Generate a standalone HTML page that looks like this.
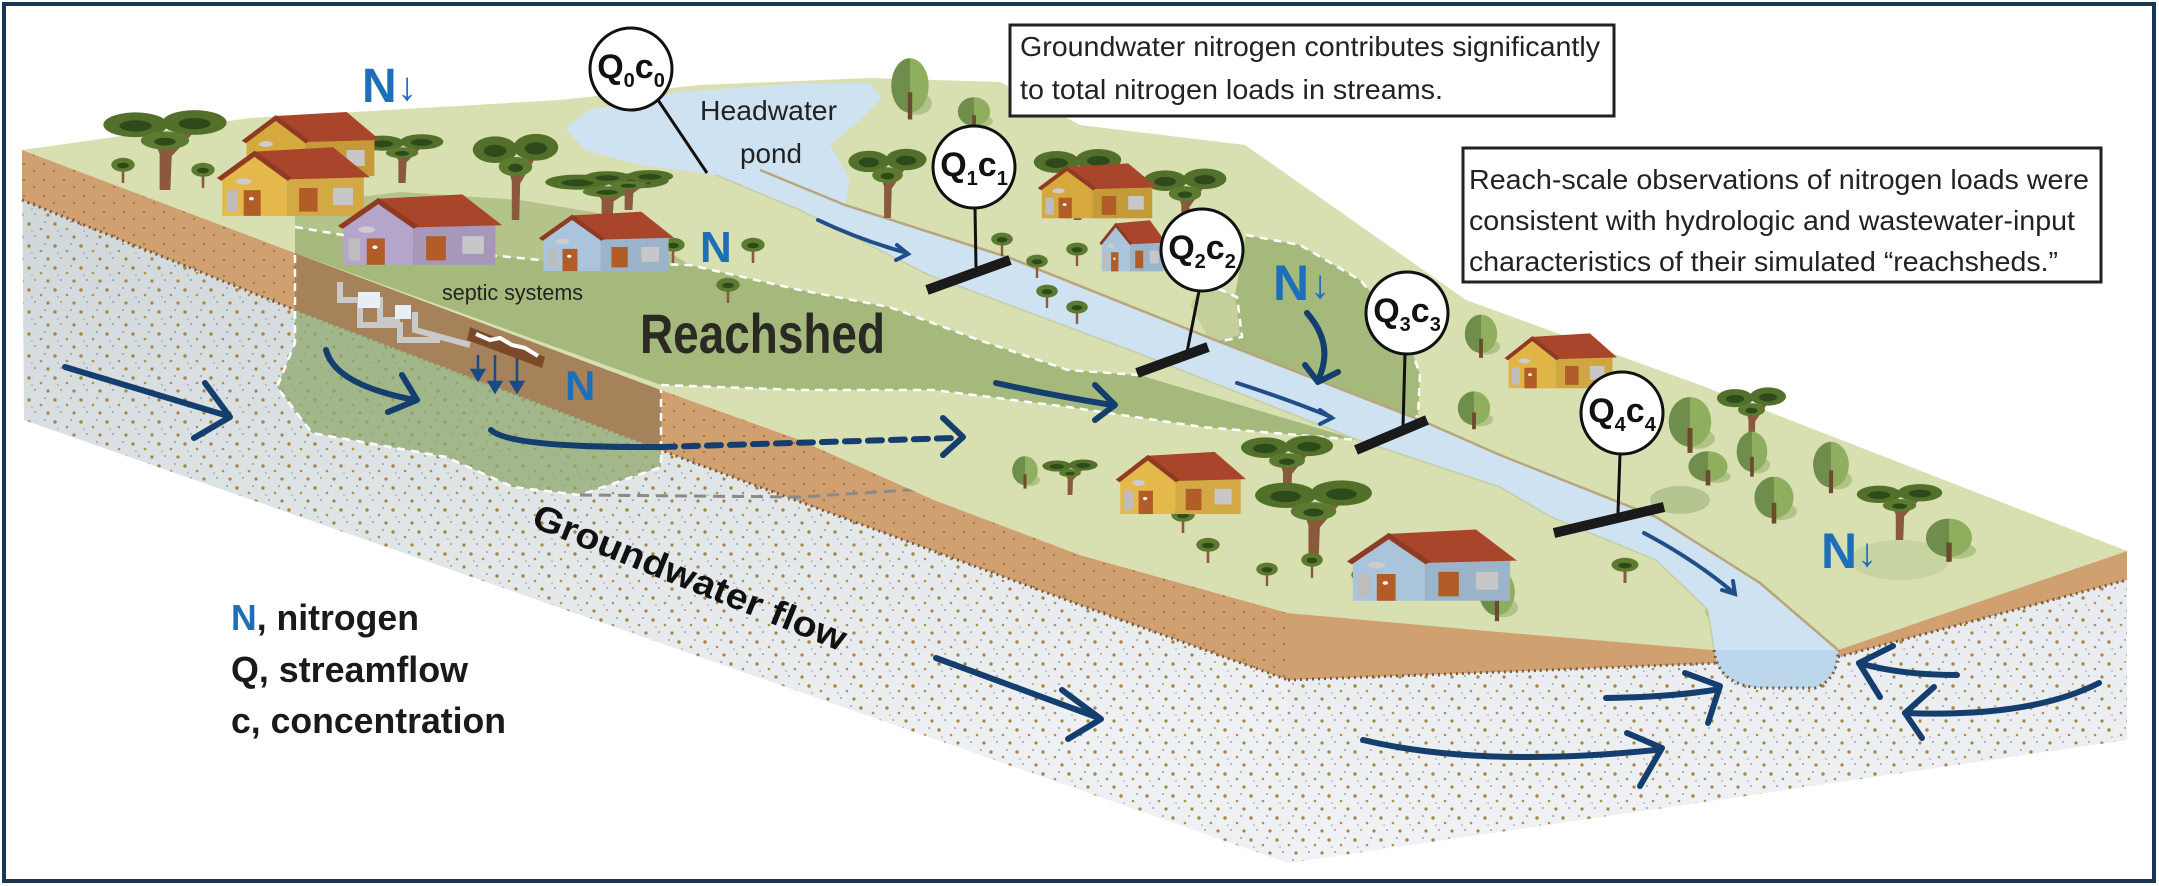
<!DOCTYPE html>
<html><head><meta charset="utf-8"><style>
html,body{margin:0;padding:0;background:#fff;}
svg{display:block;}
.nar{font-family:"Liberation Sans Narrow","Liberation Sans",sans-serif;}
</style></head><body>
<svg width="2159" height="886" viewBox="0 0 2159 886" xmlns="http://www.w3.org/2000/svg">
<defs>
<pattern id="dots" width="26" height="22" patternUnits="userSpaceOnUse">
<circle cx="3" cy="4" r="1.7" fill="#a8843f"/><circle cx="15" cy="9" r="1.3" fill="#b09050"/>
<circle cx="22" cy="17" r="1.6" fill="#a8843f"/><circle cx="9" cy="16" r="0.9" fill="#8a8a8a"/>
<circle cx="19" cy="2" r="0.9" fill="#8a8a8a"/><circle cx="6" cy="11" r="0.8" fill="#999"/>
</pattern>
<pattern id="bdots" width="20" height="16" patternUnits="userSpaceOnUse">
<circle cx="4" cy="4" r="1.2" fill="#a77a48"/><circle cx="14" cy="11" r="1.2" fill="#a77a48"/>
</pattern>
<linearGradient id="gl" x1="0" y1="0" x2="0.3" y2="1"><stop offset="0" stop-color="#cdd5d8"/><stop offset="1" stop-color="#eef1f3"/></linearGradient>
<linearGradient id="gr" x1="0" y1="0" x2="0" y2="1"><stop offset="0" stop-color="#e6eaee"/><stop offset="1" stop-color="#f0f2f5"/></linearGradient>
<symbol id="house" viewBox="0 0 100 70" preserveAspectRatio="none">
<polygon points="4,32 25,12 46,32 46,68 4,68" fill="currentColor"/>
<rect x="46" y="30" width="50" height="38" fill="currentColor"/>
<rect x="46" y="30" width="50" height="38" fill="#000" opacity="0.08"/>
<polygon points="25,8 76,4 100,32 46,34" fill="#a8452a"/>
<polyline points="2,34 25,10 48,34" fill="none" stroke="#8f3a22" stroke-width="4"/>
<rect x="18" y="44" width="11" height="24" fill="#b25d28"/>
<circle cx="23" cy="52" r="1.6" fill="#fff"/>
<rect x="7" y="44" width="7" height="20" fill="#bdbdbd"/>
<rect x="54" y="42" width="12" height="22" fill="#b25d28"/>
<rect x="76" y="42" width="13" height="16" fill="#c7c7c7"/>
<ellipse cx="18" cy="36" rx="5" ry="3" fill="#ccc"/>
</symbol>
<symbol id="acacia" viewBox="0 0 100 80" preserveAspectRatio="none">
<path d="M46 80 L54 80 L55 50 L72 28 L67 25 L52 42 L44 22 L38 25 L46 48 Z" fill="#8b5a3c"/>
<ellipse cx="28" cy="22" rx="24" ry="11" fill="#52702a"/>
<ellipse cx="72" cy="20" rx="24" ry="11" fill="#52702a"/>
<ellipse cx="50" cy="36" rx="18" ry="8" fill="#5d7b30"/>
<ellipse cx="28" cy="23" rx="12" ry="5" fill="#2e4a1a"/>
<ellipse cx="72" cy="21" rx="12" ry="5" fill="#2e4a1a"/>
<ellipse cx="50" cy="37" rx="8" ry="3.5" fill="#2e4a1a"/>
</symbol>
<symbol id="small" viewBox="0 0 40 40" preserveAspectRatio="none">
<rect x="18" y="16" width="4" height="24" fill="#8b5a3c"/>
<ellipse cx="20" cy="14" rx="18" ry="10" fill="#5d7b30"/>
<ellipse cx="20" cy="15" rx="9" ry="4" fill="#2e4a1a"/>
</symbol>
<symbol id="round" viewBox="0 0 40 60" preserveAspectRatio="none">
<ellipse cx="26" cy="42" rx="14" ry="10" fill="#a9bb80" opacity="0.8"/>
<ellipse cx="20" cy="26" rx="17" ry="24" fill="#8faf5e"/>
<path d="M20 2 A17 24 0 0 0 20 50 Z" fill="#6f8e4c"/>
<rect x="18" y="32" width="4" height="24" fill="#6b4a2e"/>
</symbol>
</defs>

<rect x="0" y="0" width="2159" height="886" fill="#fff"/>

<!-- left front face -->
<polygon points="22,150 295,253 661,390 800,440 934,500 1080,555 1288,613 1288,863 24,420" fill="url(#gl)"/>
<polygon points="22,150 295,253 661,390 800,440 934,500 1080,555 1288,613 1288,863 24,420" fill="url(#dots)"/>
<!-- right face -->
<polygon points="1288,613 1500,632 1714,650 1731,680 1830,680 1838,650 2127,551 2127,740 1288,863" fill="url(#gr)"/>
<polygon points="1288,613 1500,632 1714,650 1731,680 1830,680 1838,650 2127,551 2127,740 1288,863" fill="url(#dots)"/>
<!-- brown bands -->
<polygon points="22,150 295,253 661,390 800,440 934,500 1080,555 1288,613 1288,680 1080,605 700,465 295,310 22,200" fill="#d0a070"/>
<polygon points="22,150 295,253 661,390 800,440 934,500 1080,555 1288,613 1288,680 1080,605 700,465 295,310 22,200" fill="url(#bdots)"/>
<polyline points="22,200 295,310 700,465 1080,605 1288,680" fill="none" stroke="#7a5a3a" stroke-width="3" stroke-dasharray="2 4"/>
<polygon points="1288,613 1500,632 1714,650 1720,663 1500,672 1288,680" fill="#d0a070"/>
<polygon points="1838,650 2127,551 2127,580 1838,657" fill="#d0a070"/>
<polyline points="1288,680 1500,672 1720,663" fill="none" stroke="#7a5a3a" stroke-width="3" stroke-dasharray="2 4"/>
<polyline points="1838,657 2127,580" fill="none" stroke="#7a5a3a" stroke-width="3" stroke-dasharray="2 4"/>
<!-- stream mouth -->
<path d="M1714,650 Q1718,685 1760,688 L1815,688 Q1838,680 1838,650 Z" fill="#bcd6ec"/>
<path d="M1714,650 Q1718,685 1760,688 L1815,688 Q1838,680 1838,650" fill="none" stroke="#7a5a3a" stroke-width="3" stroke-dasharray="2 4"/>

<!-- cutaway -->
<polygon points="295,253 661,390 661,450 295,310" fill="#a5825a"/>
<polygon points="295,310 661,450 661,467 580,495 513,487 446,457 312,433 277,387 295,343" fill="#8fa86e" opacity="0.75"/>
<polyline points="295,227 295,343 277,387 312,433 446,457 513,487 580,495 661,467 661,385" fill="none" stroke="#fff" stroke-width="2.5" stroke-dasharray="8 6"/>
<polyline points="580,495 800,497 1112,477 1250,455 1358,440" fill="none" stroke="#8a8a8a" stroke-width="3" stroke-dasharray="12 7"/>

<!-- top surface -->
<polygon points="22,150 250,118 560,100 700,85 870,78 1000,82 1080,125 1245,145 1466,300 1700,385 2127,551 1838,650 1714,650 1500,632 1288,613 1080,555 934,500 800,440 661,390 295,253" fill="#d8dfb0"/>
<!-- mid green zones -->
<polygon points="295,227 295,205 400,192 520,200 610,215 690,265 560,262 427,249" fill="#b3c38a"/>
<polygon points="1211,343 1242,337 1237,297 1205,283 1190,305" fill="#c4d09c"/>
<!-- reachshed -->
<polygon points="295,227 427,249 560,262 690,265 800,290 889,307 979,340 1068,370 1139,375 1358,440 1202,427 1068,407 934,390 800,390 661,385 295,253" fill="#a6b97c"/>
<polygon points="1215,342 1240,335 1235,295 1246,235 1300,245 1360,280 1405,330 1420,375 1418,415 1410,425" fill="#a6b97c"/>
<polyline points="295,227 427,249 560,262 690,265 800,290 889,307 979,340 1068,370 1139,375" fill="none" stroke="#fff" stroke-width="2.5" stroke-dasharray="8 6"/>
<polyline points="661,385 800,390 934,390 1068,407 1202,427 1358,440" fill="none" stroke="#fff" stroke-width="2.5" stroke-dasharray="8 6"/>
<polyline points="1211,343 1242,337 1237,297 1205,283" fill="none" stroke="#fff" stroke-width="2.5" stroke-dasharray="8 6"/>
<polyline points="1246,235 1300,245 1360,280 1405,330 1420,375 1418,415 1410,425" fill="none" stroke="#fff" stroke-width="2.5" stroke-dasharray="8 6"/>
<!-- shadows/blobs right -->
<ellipse cx="1745" cy="610" rx="40" ry="20" fill="#b5c58f"/>
<ellipse cx="1680" cy="500" rx="30" ry="14" fill="#b5c58f"/>
<ellipse cx="1900" cy="560" rx="50" ry="20" fill="#c7d3a1"/>

<!-- pond -->
<polygon points="565,128 590,110 680,92 790,84 870,83 882,98 860,120 830,145 850,180 845,205 800,195 716,175 640,165 585,150" fill="#cfe2f2"/>
<!-- stream -->
<polygon points="716,175 800,210 929,275 1135,352 1358,440 1500,487 1551,517 1656,560 1708,610 1714,650 1838,650 1760,583 1656,517 1500,455 1425,422 1215,340 1010,258 845,205 800,190 760,170" fill="#cfe2f2"/>
<polyline points="760,170 845,205 1010,258 1215,340 1425,422 1500,455 1656,517 1760,583 1838,650" fill="none" stroke="#b8a57c" stroke-width="2.5"/>
<polyline points="716,175 800,210 929,275 1135,352 1358,440 1500,487 1551,517 1656,560 1708,610 1714,650" fill="none" stroke="#c5cfa6" stroke-width="1.5"/>

<!-- trees -->
<use href="#acacia" x="98" y="100" width="134" height="90"/>
<use href="#acacia" x="357" y="128" width="90" height="55"/>
<use href="#acacia" x="469" y="123" width="93" height="97"/>
<use href="#acacia" x="540" y="167" width="134" height="55"/>
<use href="#acacia" x="580" y="165" width="97" height="45"/>
<use href="#acacia" x="845" y="140" width="85" height="78"/>
<use href="#acacia" x="1030" y="140" width="95" height="80"/>
<use href="#acacia" x="1140" y="160" width="90" height="75"/>
<use href="#acacia" x="1237" y="427" width="100" height="75"/>
<use href="#acacia" x="1250" y="470" width="127" height="92"/>
<use href="#acacia" x="1853" y="477" width="93" height="63"/>
<use href="#acacia" x="1714" y="380" width="75" height="66"/>
<use href="#acacia" x="1040" y="455" width="60" height="40"/>
<use href="#small" x="110" y="155" width="26" height="28"/>
<use href="#small" x="190" y="160" width="26" height="28"/>
<use href="#small" x="660" y="235" width="26" height="28"/>
<use href="#small" x="740" y="235" width="26" height="28"/>
<use href="#small" x="715" y="275" width="26" height="28"/>
<use href="#small" x="990" y="230" width="24" height="26"/>
<use href="#small" x="1025" y="252" width="24" height="26"/>
<use href="#small" x="1065" y="240" width="24" height="26"/>
<use href="#small" x="1035" y="282" width="24" height="26"/>
<use href="#small" x="1065" y="298" width="24" height="26"/>
<use href="#small" x="1170" y="505" width="26" height="28"/>
<use href="#small" x="1195" y="535" width="26" height="28"/>
<use href="#small" x="1300" y="550" width="24" height="28"/>
<use href="#small" x="1255" y="560" width="24" height="26"/>
<use href="#small" x="1350" y="565" width="26" height="28"/>
<use href="#small" x="1610" y="555" width="30" height="28"/>
<use href="#round" x="888" y="56" width="44" height="68"/>
<use href="#round" x="955" y="96" width="38" height="36"/>
<use href="#round" x="1462" y="313" width="38" height="48"/>
<use href="#round" x="1455" y="390" width="38" height="42"/>
<use href="#round" x="1665" y="395" width="50" height="62"/>
<use href="#round" x="1734" y="430" width="36" height="50"/>
<use href="#round" x="1810" y="440" width="42" height="57"/>
<use href="#round" x="1751" y="475" width="46" height="52"/>
<use href="#round" x="1685" y="450" width="46" height="38"/>
<use href="#round" x="1922" y="517" width="54" height="48"/>
<use href="#round" x="1476" y="567" width="42" height="58"/>
<use href="#round" x="1010" y="455" width="30" height="36"/>

<!-- houses -->
<use href="#house" x="241" y="108" width="139" height="70" style="color:#d6a93e"/>
<use href="#house" x="216" y="143" width="154" height="75" style="color:#e4b84a"/>
<use href="#house" x="337" y="190" width="165" height="77" style="color:#b6a5ca"/>
<use href="#house" x="538" y="208" width="136" height="65" style="color:#aac4dc"/>
<use href="#house" x="1037" y="160" width="120" height="60" style="color:#d6a93e"/>
<use href="#house" x="1099" y="217" width="67" height="56" style="color:#aac4dc"/>
<use href="#house" x="1504" y="330" width="113" height="60" style="color:#e0b548"/>
<use href="#house" x="1115" y="448" width="131" height="68" style="color:#e4b84a"/>
<use href="#house" x="1346" y="525" width="171" height="78" style="color:#aac4dc"/>

<!-- septic -->
<path d="M340,282 L340,300 L380,300 L380,320 L400,320 M360,300 L360,325 L400,325 L400,340 L440,340 M415,312 L415,330 L470,345" fill="none" stroke="#c9c9c9" stroke-width="6"/>
<rect x="358" y="292" width="22" height="16" fill="#e8eef5"/>
<rect x="395" y="305" width="16" height="14" fill="#e8eef5"/>
<polygon points="470,327 545,357 542,368 467,340" fill="#7a4a2a"/>
<polyline points="476,334 490,340 500,338 512,345 525,348 538,356" fill="none" stroke="#fff" stroke-width="4"/>
<g stroke="#1a4b86" stroke-width="2.5" fill="#1a4b86">
<line x1="478" y1="355" x2="478" y2="372"/><polygon points="472,370 484,370 478,380"/>
<line x1="495" y1="355" x2="495" y2="384"/><polygon points="489,382 501,382 495,392"/>
<line x1="517" y1="358" x2="517" y2="384"/><polygon points="511,382 523,382 517,392"/>
</g>

<!-- blue flow arrows -->
<g fill="none" stroke="#143e6e" stroke-width="6" stroke-linecap="round" stroke-linejoin="round">
<line x1="65" y1="367" x2="228" y2="416"/><polyline points="205,383 230,417 194,438"/>
<path d="M326,350 Q335,385 415,400"/><polyline points="402,375 417,400 388,412"/>
<path d="M491,430 Q510,448 661,447"/>
<line x1="661" y1="447" x2="955" y2="438" stroke-dasharray="14 9"/><polyline points="943,418 963,437 943,455"/>
<path d="M996,383 Q1050,395 1112,405"/><polyline points="1095,385 1115,405 1095,420"/>
<path d="M1307,313 Q1335,345 1318,380"/><polyline points="1305,365 1318,382 1338,372"/>
<line x1="936" y1="658" x2="1099" y2="718"/><polyline points="1062,690 1101,719 1068,739"/>
<path d="M1363,740 Q1480,768 1656,750"/><polyline points="1627,733 1662,748 1640,786"/>
<path d="M1606,698 Q1670,697 1714,690"/><polyline points="1685,673 1720,686 1708,723"/>
<path d="M1957,675 Q1900,675 1859,663"/><polyline points="1893,646 1859,663 1880,697"/>
<path d="M2099,683 Q2030,718 1905,713"/><polyline points="1934,687 1905,713 1922,738"/>
</g>
<g fill="none" stroke="#1f4e88" stroke-width="4" stroke-linecap="round">
<path d="M818,220 Q860,240 907,253"/><polyline points="897,245 908,254 896,260"/>
<path d="M1237,383 Q1290,400 1331,417"/><polyline points="1320,410 1332,418 1320,424"/>
<path d="M1644,533 Q1695,560 1734,593"/><polyline points="1722,590 1735,594 1733,581"/>
</g>

<!-- Q stakes -->
<g stroke="#111" stroke-width="3">
<line x1="658" y1="100" x2="707" y2="173"/>
<line x1="975" y1="208" x2="976" y2="267"/>
<line x1="1199" y1="291" x2="1186" y2="357"/>
<line x1="1405" y1="354" x2="1403" y2="427"/>
<line x1="1620" y1="454" x2="1618" y2="513"/>
</g>
<g stroke="#1a1a1a" stroke-width="10">
<line x1="927" y1="290" x2="1010" y2="260"/>
<line x1="1137" y1="373" x2="1208" y2="347"/>
<line x1="1356" y1="450" x2="1427" y2="420"/>
<line x1="1554" y1="533" x2="1664" y2="507"/>
</g>
<g fill="#fff" stroke="#111" stroke-width="3">
<circle cx="631" cy="69" r="41"/><circle cx="974" cy="167" r="41"/>
<circle cx="1202" cy="250" r="41"/><circle cx="1407" cy="313" r="41"/>
<circle cx="1622" cy="413" r="41"/>
</g>
<g class="nar" font-weight="bold" fill="#111" text-anchor="middle" font-size="34">
<text x="631" y="78">Q<tspan font-size="20" dy="9">0</tspan><tspan dy="-9">c</tspan><tspan font-size="20" dy="9">0</tspan></text>
<text x="974" y="176">Q<tspan font-size="20" dy="9">1</tspan><tspan dy="-9">c</tspan><tspan font-size="20" dy="9">1</tspan></text>
<text x="1202" y="259">Q<tspan font-size="20" dy="9">2</tspan><tspan dy="-9">c</tspan><tspan font-size="20" dy="9">2</tspan></text>
<text x="1407" y="322">Q<tspan font-size="20" dy="9">3</tspan><tspan dy="-9">c</tspan><tspan font-size="20" dy="9">3</tspan></text>
<text x="1622" y="422">Q<tspan font-size="20" dy="9">4</tspan><tspan dy="-9">c</tspan><tspan font-size="20" dy="9">4</tspan></text>
</g>

<!-- labels -->
<g class="nar" fill="#222">
<text x="700" y="120" font-size="28" textLength="137" lengthAdjust="spacingAndGlyphs">Headwater</text>
<text x="740" y="163" font-size="28" textLength="62" lengthAdjust="spacingAndGlyphs">pond</text>
<text x="442" y="300" font-size="22" textLength="141" lengthAdjust="spacingAndGlyphs">septic systems</text>
<text x="640" y="353" font-size="56" font-weight="bold" fill="#2a2a22" textLength="245" lengthAdjust="spacingAndGlyphs">Reachshed</text>
<text x="530" y="526" font-size="36" font-weight="bold" fill="#111" transform="rotate(22 530 526)" textLength="335" lengthAdjust="spacingAndGlyphs">Groundwater flow</text>
</g>
<g class="nar" font-weight="bold" fill="#1d6fb8">
<text x="362" y="102" font-size="48">N</text><text x="397" y="100" font-size="40">↓</text>
<text x="700" y="262" font-size="44">N</text>
<text x="565" y="400" font-size="42">N</text>
<text x="1273" y="300" font-size="50">N</text><text x="1310" y="298" font-size="40">↓</text>
<text x="1821" y="568" font-size="50">N</text><text x="1857" y="566" font-size="40">↓</text>
</g>
<g class="nar" font-weight="bold" fill="#1a1a1a" font-size="36">
<text x="231" y="630" textLength="188" lengthAdjust="spacingAndGlyphs"><tspan fill="#1d6fb8">N</tspan>, nitrogen</text>
<text x="231" y="682" textLength="237" lengthAdjust="spacingAndGlyphs">Q, streamflow</text>
<text x="231" y="733" textLength="275" lengthAdjust="spacingAndGlyphs">c, concentration</text>
</g>

<!-- text boxes -->
<rect x="1010" y="25" width="604" height="91" fill="#fff" stroke="#222" stroke-width="3"/>
<g class="nar" fill="#222" font-size="28">
<text x="1020" y="56" textLength="580" lengthAdjust="spacingAndGlyphs">Groundwater nitrogen contributes significantly</text>
<text x="1020" y="99" textLength="423" lengthAdjust="spacingAndGlyphs">to total nitrogen loads in streams.</text>
</g>
<rect x="1463" y="148" width="638" height="134" fill="#fff" stroke="#222" stroke-width="3"/>
<g class="nar" fill="#222" font-size="28">
<text x="1469" y="189" textLength="620" lengthAdjust="spacingAndGlyphs">Reach-scale observations of nitrogen loads were</text>
<text x="1469" y="230" textLength="606" lengthAdjust="spacingAndGlyphs">consistent with hydrologic and wastewater-input</text>
<text x="1469" y="271" textLength="589" lengthAdjust="spacingAndGlyphs">characteristics of their simulated “reachsheds.”</text>
</g>

<!-- frame -->
<rect x="4" y="4" width="2150" height="877" fill="none" stroke="#1b3556" stroke-width="4"/>
</svg>
</body></html>
